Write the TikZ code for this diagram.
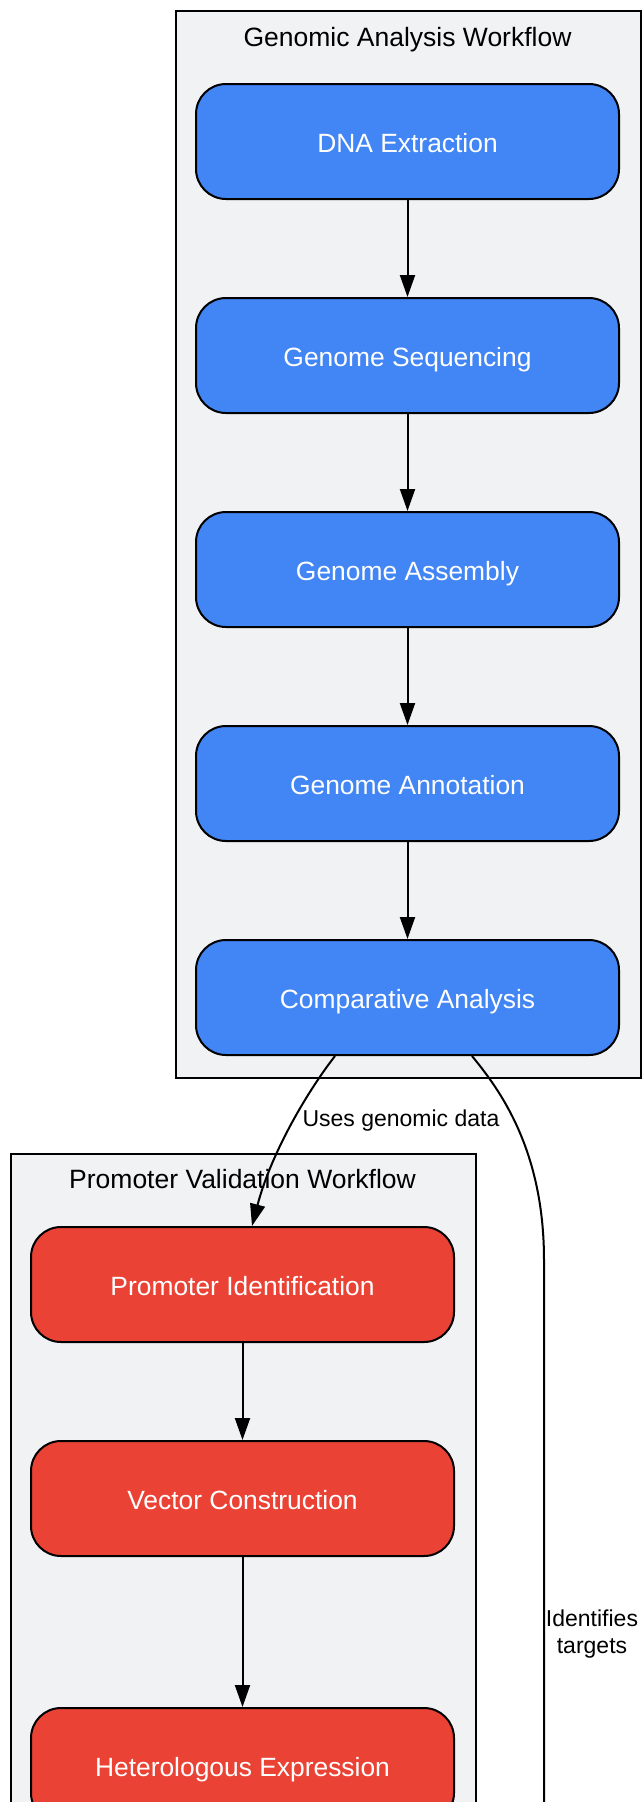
\documentclass[tikz,border=0pt]{standalone}
\usepackage{fontspec}
\setmainfont{Liberation Sans}
\usetikzlibrary{arrows.meta}
\definecolor{gblue}{HTML}{4285F4}
\definecolor{gred}{HTML}{EA4335}
\definecolor{clfill}{HTML}{F1F2F4}
\begin{document}
\begin{tikzpicture}[x=1pt,y=-1pt,
  cluster/.style={draw=black, line width=2pt, fill=clfill, inner sep=0pt, anchor=north west},
  proc/.style={draw=black, line width=2pt, rounded corners=30pt, minimum width=423pt, minimum height=115pt, inner sep=0pt, text=white, font=\fontsize{26.4}{31}\selectfont, text height=22pt, text depth=0pt},
  bluenode/.style={proc, fill=gblue},
  rednode/.style={proc, fill=gred},
  ctitle/.style={anchor=base, font=\fontsize{26.5}{31}\selectfont, text=black, inner sep=0pt},
  elabel/.style={font=\fontsize{23}{26.5}\selectfont, text=black, inner sep=0pt},
  flow/.style={draw=black, line width=2pt, -{Triangle[length=22pt,width=15pt]}},
  plainedge/.style={draw=black, line width=2pt},
]
\useasboundingbox (0,0) rectangle (642,1802);
\clip (0,0) rectangle (642,1802);
\fill[white] (0,0) rectangle (642,1802);

% clusters
\node[cluster, minimum width=465pt, minimum height=1067pt] (c1) at (175,10) {};
\node[cluster, minimum width=465pt, minimum height=760pt] (c2) at (10,1153) {};
\node[ctitle] (t1) at (407.5,46) {Genomic Analysis Workflow};
\node[ctitle] (t2) at (242.5,1188) {Promoter Validation Workflow};

% nodes
\node[bluenode] (dna) at (407.5,141.5) {DNA Extraction};
\node[bluenode] (seq) at (407.5,355.5) {Genome Sequencing};
\node[bluenode] (asm) at (407.5,569.5) {Genome Assembly};
\node[bluenode] (ann) at (407.5,783.5) {Genome Annotation};
\node[bluenode] (comp) at (407.5,997.5) {Comparative Analysis};
\node[rednode] (prom) at (242.5,1284.5) {Promoter Identification};
\node[rednode] (vec) at (242.5,1498.5) {Vector Construction};
\node[rednode] (het) at (242.5,1765.5) {Heterologous Expression};

% edges
\draw[flow] (dna) -- (seq);
\draw[flow] (seq) -- (asm);
\draw[flow] (asm) -- (ann);
\draw[flow] (ann) -- (comp);
\draw[flow] (prom) -- (vec);
\draw[flow] (vec) -- (het);
\draw[flow] ([xshift=-72.5pt]comp.south) .. controls (310,1088) and (272,1150) .. ([xshift=9.5pt]prom.north);
\coordinate (tgtend) at (544,1900);
\draw[plainedge] ([xshift=64.5pt]comp.south) .. controls (500,1090) and (544,1150) .. (544,1260) -- (tgtend);

% labels
\node[elabel, anchor=base] (l1) at (401,1126) {Uses genomic data};
\node[elabel, align=center] (l2) at (592,1634) {Identifies\\targets};
\end{tikzpicture}
\end{document}
